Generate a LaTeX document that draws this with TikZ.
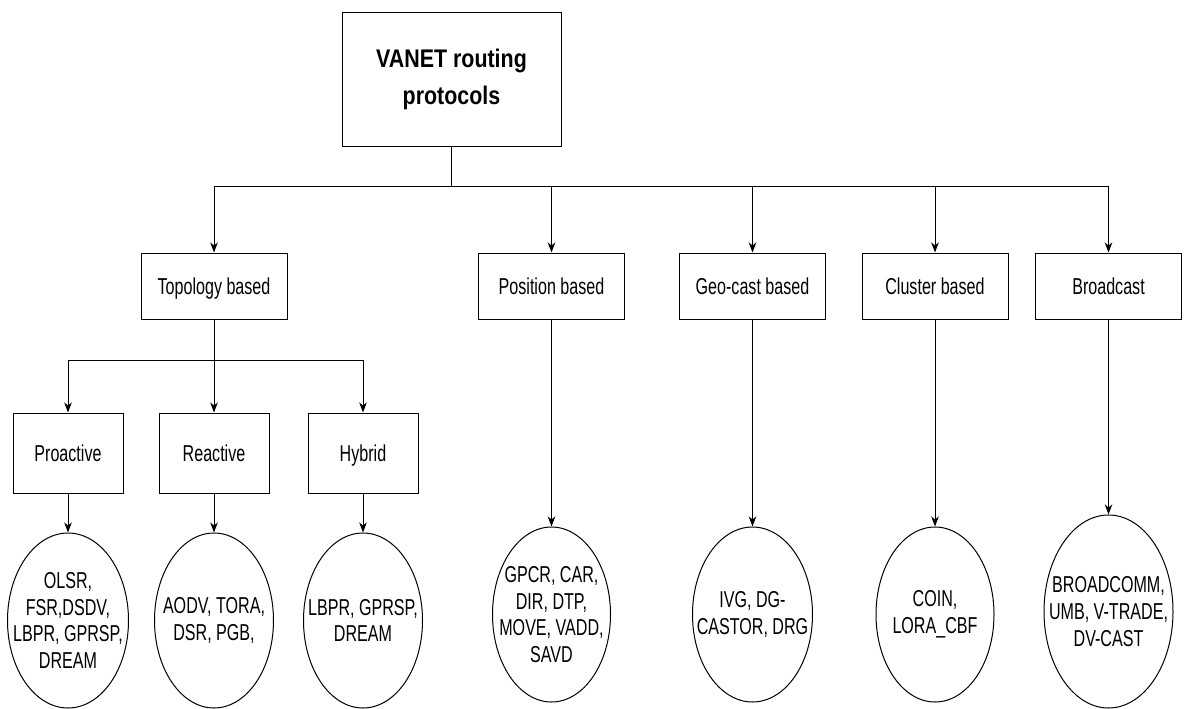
\documentclass[tikz,border=0pt]{standalone}
\usepackage{fontspec}
\setmainfont[FakeStretch=0.70]{Liberation Sans}
\newfontfamily\titlefont[FakeStretch=0.84]{Liberation Sans}
\usetikzlibrary{shapes.geometric,arrows.meta}
\begin{document}
\begin{tikzpicture}[x=1pt,y=-1pt,
  box/.style={draw, line width=1pt, minimum width=146pt, minimum height=66pt, inner sep=0pt,
              text height=17pt, text depth=0.5pt, font=\fontsize{23}{27}\selectfont},
  sub/.style={box, minimum width=110pt, minimum height=80pt},
  ell/.style={draw, ellipse, line width=1pt, inner sep=0pt},
  etxt/.style={align=center, inner sep=0pt, font=\fontsize{23}{26.7}\selectfont},
  conn/.style={line width=1pt},
  arr/.style={line width=1pt, -{Stealth[length=10pt,width=7.5pt,inset=3pt]}}]
\fill[white] (0,0) rectangle (1188,709);
\useasboundingbox (0,0) rectangle (1188,709);

\node[draw, line width=1pt, minimum width=219pt, minimum height=133pt, inner sep=0pt, align=center,
      font=\titlefont\bfseries\fontsize{25.5}{37}\selectfont] (root) at (451.5,79.5) {VANET routing\\protocols};

\node[box] (topo) at (214,286) {Topology based};
\node[box] (pos) at (551.5,286) {Position based};
\node[box] (geo) at (752.5,286) {Geo-cast based};
\node[box] (clu) at (935,286) {Cluster based};
\node[box] (bro) at (1108.5,286) {Broadcast};

\node[sub] (pro) at (68,453) {Proactive};
\node[sub] (rea) at (214,453) {Reactive};
\node[sub] (hyb) at (363,453) {Hybrid};

\node[ell, minimum width=121pt, minimum height=175pt] (epro) at (68,620.5) {};
\node[ell, minimum width=119pt, minimum height=175pt] (erea) at (214,620.5) {};
\node[ell, minimum width=119pt, minimum height=175pt] (ehyb) at (363,620.5) {};
\node[ell, minimum width=118pt, minimum height=175pt] (epos) at (551.5,614.5) {};
\node[ell, minimum width=120pt, minimum height=175pt] (egeo) at (752.5,614.5) {};
\node[ell, minimum width=118pt, minimum height=175pt] (eclu) at (935,614.5) {};
\node[ell, minimum width=129pt, minimum height=193pt] (ebro) at (1108.5,611.5) {};

\node[etxt] (tpro) at (epro) {OLSR,\\FSR,DSDV,\\LBPR, GPRSP,\\DREAM};
\node[etxt] (trea) at (erea) {AODV, TORA,\\DSR, PGB,};
\node[etxt] (thyb) at (ehyb) {LBPR, GPRSP,\\DREAM};
\node[etxt] (tpos) at (epos) {GPCR, CAR,\\DIR, DTP,\\MOVE, VADD,\\SAVD};
\node[etxt] (tgeo) at (egeo) {IVG, DG-\\CASTOR, DRG};
\node[etxt] (tclu) at (eclu) {COIN,\\LORA\_CBF};
\node[etxt] (tbro) at (ebro) {BROADCOMM,\\UMB, V-TRADE,\\DV-CAST};

\coordinate (bus) at (451.5,186);
\draw[conn] (root.south) -- (bus);
\draw[arr] (bus) -| (topo.north);
\draw[arr] (bus) -| (pos.north);
\draw[arr] (bus) -| (geo.north);
\draw[arr] (bus) -| (clu.north);
\draw[arr] (bus) -| (bro.north);

\coordinate (tbus) at (214,360);
\draw[conn] (topo.south) -- (tbus);
\draw[arr] (tbus) -| (pro.north);
\draw[arr] (tbus) -- (rea.north);
\draw[arr] (tbus) -| (hyb.north);

\draw[arr] (pro.south) -- (epro.north);
\draw[arr] (rea.south) -- (erea.north);
\draw[arr] (hyb.south) -- (ehyb.north);
\draw[arr] (pos.south) -- (epos.north);
\draw[arr] (geo.south) -- (egeo.north);
\draw[arr] (clu.south) -- (eclu.north);
\draw[arr] (bro.south) -- (ebro.north);
\end{tikzpicture}
\end{document}
